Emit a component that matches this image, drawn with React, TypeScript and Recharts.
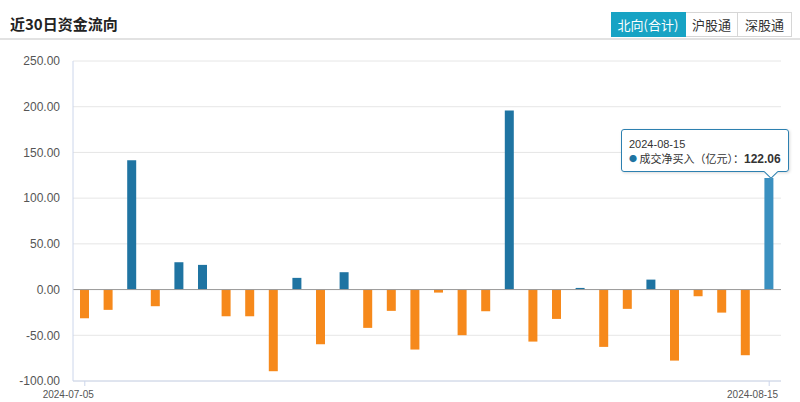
import { BarChart, Bar, XAxis, YAxis, CartesianGrid, Tooltip, ReferenceLine, Cell } from 'recharts';

const dates = [
    '2024-07-05', '2024-07-08', '2024-07-09', '2024-07-10', '2024-07-11', '2024-07-12',
    '2024-07-15', '2024-07-16', '2024-07-17', '2024-07-18', '2024-07-19',
    '2024-07-22', '2024-07-23', '2024-07-24', '2024-07-25', '2024-07-26',
    '2024-07-29', '2024-07-30', '2024-07-31', '2024-08-01', '2024-08-02',
    '2024-08-05', '2024-08-06', '2024-08-07', '2024-08-08', '2024-08-09',
    '2024-08-12', '2024-08-13', '2024-08-14', '2024-08-15',
];

// 成交净买入（亿元）
const netBuy = [
    -31.4, -22.2, 141.4, -18.2, 29.9, 27.0,
    -29.2, -29.2, -89.3, 12.8, -59.8,
    19.0, -41.9, -23.3, -65.6, -3.3,
    -49.9, -23.7, 195.8, -56.9, -32.1,
    1.8, -62.7, -21.1, 10.9, -77.7,
    -7.3, -25.2, -71.8, 122.06,
];

const yTicks = [-100, -50, 0, 50, 100, 150, 200, 250];
const tabs = ['北向(合计)', '沪股通', '深股通'];
const seriesName = '成交净买入（亿元）';

const data = dates.map((d, i) => ({ date: d, value: netBuy[i] }));

const UP = '#1f74a2';
const DOWN = '#f6891b';
const ACTIVE = '#3a90c0';
const LAST = dates.length - 1;

// only the first and the last date get a tick and a label
const DateTick = ({ x, y, payload, index }: any) => {
    if (index !== 0 && index !== LAST) return null;
    return (
        <g>
            <line x1={x} y1={y - 8} x2={x} y2={y - 3} stroke="#ccd6eb" />
            <text x={x + 9} y={y + 9} textAnchor="end" fontSize={10} fill="#555" fontFamily="'Liberation Sans', Arial, sans-serif">
                {payload.value}
            </text>
        </g>
    );
};

const TipBox = ({ active, payload, label }: any) => {
    if (!active || !payload || !payload.length) return null;
    return (
        <div style={{
            position: 'relative', width: 168, height: 43, boxSizing: 'border-box',
            background: 'rgba(255,255,255,0.96)', border: '1px solid #2d80b0', borderRadius: 3,
            fontFamily: "'Noto Sans CJK SC', sans-serif", color: '#333',
            boxShadow: '1px 1px 3px rgba(0,0,0,0.15)',
        }}>
            <div style={{ position: 'absolute', left: 7, top: 8, fontSize: 11, lineHeight: '12px', fontFamily: "'Liberation Sans', Arial, sans-serif" }}>{label}</div>
            <div style={{ position: 'absolute', left: 7, top: 21, fontSize: 11, lineHeight: '14px', whiteSpace: 'nowrap' }}>
                <span style={{ color: UP, fontSize: 8, verticalAlign: 1 }}>●</span> {seriesName}：
                <b style={{ fontSize: 12, fontFamily: "'Liberation Sans', Arial, sans-serif" }}>{payload[0].value.toFixed(2)}</b>
            </div>
            <div style={{
                position: 'absolute', left: 144, bottom: -6, width: 9, height: 9,
                background: '#fff', borderRight: '1px solid #2d80b0', borderBottom: '1px solid #2d80b0',
                transform: 'rotate(45deg)',
            }} />
        </div>
    );
};

export default function App() {
    return (
        <div style={{ position: 'absolute', left: 0, top: 0, width: 800, height: 402, background: '#fff', overflow: 'hidden' }}>
            {/* header */}
            <div style={{
                position: 'absolute', left: 10, top: 12, fontSize: 15, fontWeight: 'bold', color: '#222',
                fontFamily: "'Noto Sans CJK SC', sans-serif", lineHeight: '24px',
            }}>近30日资金流向</div>
            <div style={{ position: 'absolute', left: 0, top: 38, width: 800, height: 2, background: '#e2e2e2' }} />
            <div style={{ position: 'absolute', left: 611, top: 12, display: 'flex', height: 25 }}>
                {tabs.map((t, i) => (
                    <div key={t} style={{
                        width: i === 0 ? 75 : (i === 1 ? 52 : 54), boxSizing: 'border-box', height: 25,
                        border: '1px solid ' + (i === 0 ? '#17a3c4' : '#d6d6d6'), borderLeft: i === 0 ? undefined : 'none',
                        background: i === 0 ? '#17a3c4' : '#fff', color: i === 0 ? '#fff' : '#333',
                        fontSize: 13, lineHeight: '23px', textAlign: 'center',
                        fontFamily: "'Noto Sans CJK SC', sans-serif",
                    }}>{t}</div>
                ))}
            </div>

            <div style={{ position: 'absolute', left: 0, top: 0 }}>
                <BarChart width={800} height={402} data={data} margin={{ top: 61, right: 19, bottom: 0, left: 0 }}>
                    <CartesianGrid vertical={false} stroke="#e6e6e6" />
                    <XAxis
                        dataKey="date"
                        interval={0}
                        tickLine={false}
                        axisLine={{ stroke: '#ccd6eb' }}
                        height={21}
                        tick={<DateTick />}
                    />
                    <YAxis
                        width={73}
                        domain={[-100, 250]}
                        ticks={yTicks}
                        interval={0}
                        tickLine={false}
                        axisLine={{ stroke: '#ccd6eb' }}
                        tickMargin={7}
                        tickFormatter={(v: number) => v.toFixed(2)}
                        tick={{ fill: '#555', fontSize: 12, fontFamily: "'Liberation Sans', Arial, sans-serif" }}
                    />
                    <ReferenceLine y={0} stroke="#999" />
                    <Tooltip
                        active
                        defaultIndex={LAST}
                        cursor={false}
                        position={{ x: 621, y: 129 }}
                        isAnimationActive={false}
                        content={<TipBox />}
                    />
                    <Bar dataKey="value" name={seriesName} barSize={9} isAnimationActive={false}>
                        {data.map((d, i) => (
                            <Cell key={d.date} fill={i === LAST ? ACTIVE : (d.value >= 0 ? UP : DOWN)} />
                        ))}
                    </Bar>
                </BarChart>
            </div>
        </div>
    );
}
